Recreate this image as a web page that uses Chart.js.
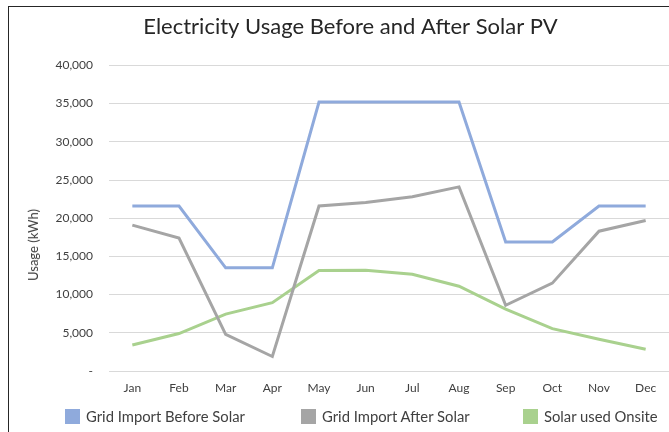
<!DOCTYPE html>
<html>
<head>
<meta charset="utf-8">
<script src="https://cdn.jsdelivr.net/npm/chart.js@4/dist/chart.umd.min.js"></script>
<style>
  html, body { margin: 0; padding: 0; background: #fff; }
  body { width: 669px; height: 432px; position: relative; overflow: hidden; font-family: Lato, sans-serif; }
  #frame { position: absolute; left: 8px; top: 6px; width: 700px; height: 500px; border: 1px solid #262626; box-sizing: border-box; }
  #c { position: absolute; left: 0; top: 0; }
  #ytitle { position: absolute; left: 33px; top: 245px; transform: translate(-50%, -50%) rotate(-90deg); font-size: 13px; color: #404040; white-space: nowrap; }
  .lg { position: absolute; top: 406px; height: 20px; display: flex; align-items: center; font-size: 14.8px; color: #404040; white-space: nowrap; }
  .lg span.box { display: inline-block; width: 15px; height: 15px; margin-right: 6px; }
</style>
</head>
<body>
<div id="frame"></div>
<canvas id="c" width="669" height="432"></canvas>
<div id="ytitle">Usage (kWh)</div>
<div id="legend"></div>
<script>
const titleText = 'Electricity Usage Before and After Solar PV';
const months = ['Jan','Feb','Mar','Apr','May','Jun','Jul','Aug','Sep','Oct','Nov','Dec'];
const seriesNames = ['Grid Import Before Solar', 'Grid Import After Solar', 'Solar used Onsite'];
const gridBefore = [21600, 21600, 13500, 13500, 35200, 35200, 35200, 35200, 16900, 16900, 21600, 21600];
const gridAfter  = [19100, 17400, 4800, 1900, 21600, 22050, 22800, 24100, 8600, 11500, 18300, 19700];
const solarOnsite = [3400, 4900, 7450, 8950, 13150, 13200, 12650, 11100, 8100, 5550, 4150, 2850];
const yTicks = [0, 5000, 10000, 15000, 20000, 25000, 30000, 35000, 40000];
const colors = ['#8FAADC', '#A5A5A5', '#A9D18E'];

const legendPos = [[65, 86], [301, 323], [523, 546]];
const legendEl = document.getElementById('legend');
seriesNames.forEach((n, i) => {
  const d = document.createElement('div');
  d.className = 'lg';
  d.style.left = legendPos[i][0] + 'px';
  d.innerHTML = '<span class="box" style="background:' + colors[i] + '"></span><span>' + n + '</span>';
  legendEl.appendChild(d);
});

const font = 'Lato';
new Chart(document.getElementById('c'), {
  type: 'line',
  data: {
    labels: months,
    datasets: [gridBefore, gridAfter, solarOnsite].map((d, i) => ({
      label: seriesNames[i],
      data: d,
      borderColor: colors[i],
      backgroundColor: colors[i],
      borderWidth: 3,
      pointRadius: 0,
      tension: 0,
      fill: false
    }))
  },
  options: {
    responsive: false,
    animation: false,
    layout: { padding: { left: 32, right: 0, top: 0, bottom: 36 } },
    plugins: {
      legend: { display: false },
      tooltip: { enabled: false },
      title: {
        display: true,
        text: titleText,
        color: '#262626',
        font: { family: font, size: 22, weight: 'normal', lineHeight: 1.2 },
        padding: { top: 14, bottom: 25 }
      }
    },
    scales: {
      x: {
        offset: true,
        grid: { display: false, drawTicks: false, offset: true },
        border: { display: false },
        ticks: { color: '#404040', font: { family: font, size: 12 }, padding: 10, maxRotation: 0 },
        afterFit(s) { s.height = 25; }
      },
      y: {
        min: 0, max: 40000,
        afterBuildTicks(s) { s.ticks = yTicks.map(v => ({ value: v })); },
        grid: { color: '#D9D9D9', lineWidth: 1, drawTicks: false },
        border: { display: false },
        ticks: {
          color: '#404040', font: { family: font, size: 12 }, padding: 16,
          callback: v => v === 0 ? '-' : v.toLocaleString('en-US')
        },
        afterFit(s) { s.width = 77; }
      }
    }
  }
});
</script>
</body>
</html>
